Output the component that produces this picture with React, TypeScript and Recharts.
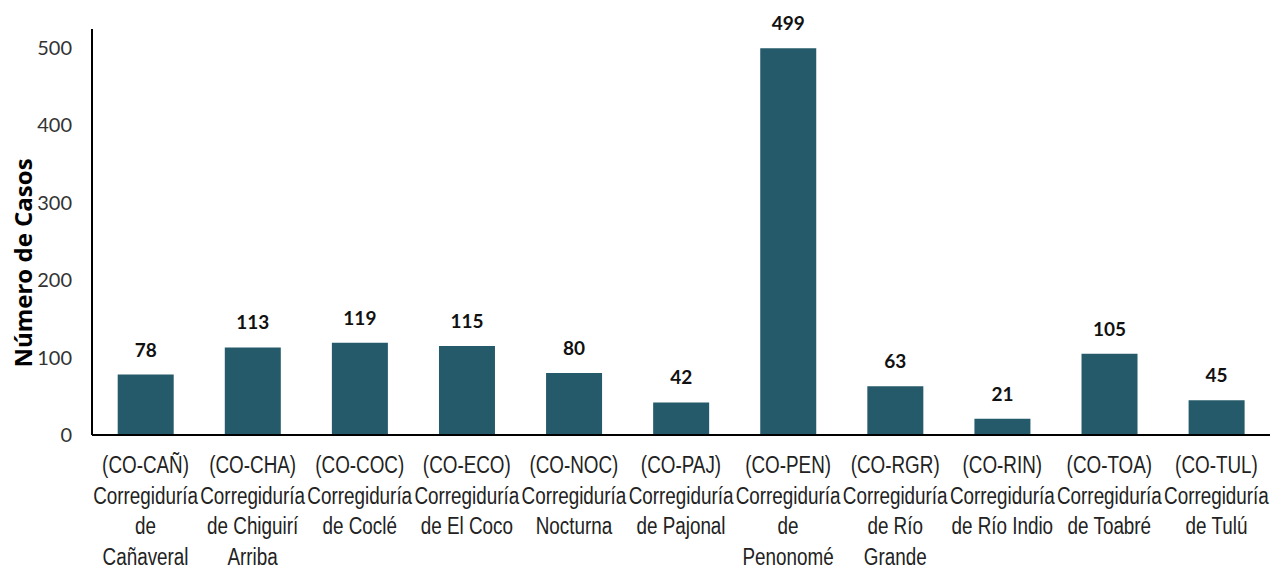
import { BarChart, Bar, XAxis, YAxis, LabelList } from 'recharts';

const categories = [
  '(CO-CAÑ)\nCorregiduría\nde\nCañaveral',
  '(CO-CHA)\nCorregiduría\nde Chiguirí\nArriba',
  '(CO-COC)\nCorregiduría\nde Coclé',
  '(CO-ECO)\nCorregiduría\nde El Coco',
  '(CO-NOC)\nCorregiduría\nNocturna',
  '(CO-PAJ)\nCorregiduría\nde Pajonal',
  '(CO-PEN)\nCorregiduría\nde\nPenonomé',
  '(CO-RGR)\nCorregiduría\nde Río\nGrande',
  '(CO-RIN)\nCorregiduría\nde Río Indio',
  '(CO-TOA)\nCorregiduría\nde Toabré',
  '(CO-TUL)\nCorregiduría\nde Tulú',
];
const casos = [78, 113, 119, 115, 80, 42, 499, 63, 21, 105, 45];
const yTicks = [0, 100, 200, 300, 400, 500];

const data = categories.map((name, i) => ({ name, casos: casos[i] }));

// multi-line category label, squeezed horizontally to look like a narrow face
const CategoryTick = (props: any) => {
  const { x, y, payload } = props;
  const lines = String(payload.value).split('\n');
  return (
    <g transform={`translate(${x},${y}) scale(0.82,1)`}>
      {lines.map((line, i) => (
        <text
          key={i}
          x={0}
          y={30.5 + i * 30.5}
          textAnchor="middle"
          fill="#222"
          fontSize={23}
          fontFamily="'Liberation Sans', Arial, sans-serif"
        >
          {line}
        </text>
      ))}
    </g>
  );
};

const YTitle = () => (
  <text
    x={0}
    y={0}
    transform="translate(32,263) rotate(-90)"
    textAnchor="middle"
    fontSize={24}
    fontWeight={700}
    fill="#000"
    fontFamily="'Open Sans', sans-serif"
  >
    Número de Casos
  </text>
);

export default function App() {
  return (
    <div style={{ position: 'absolute', left: 0, top: 0, width: 1273, height: 571, background: '#fff' }}>
      <BarChart
        width={1273}
        height={571}
        data={data}
        margin={{ top: 29, right: 3, left: 0, bottom: 0 }}
        barCategoryGap="24%"
      >
        <XAxis
          dataKey="name"
          interval={0}
          tickLine={false}
          axisLine={{ stroke: '#000', strokeWidth: 2 }}
          tick={<CategoryTick />}
          height={136}
        />
        <YAxis
          domain={[0, 524]}
          ticks={yTicks}
          tickLine={false}
          axisLine={{ stroke: '#000', strokeWidth: 2 }}
          width={92}
          tickMargin={14}
          tick={{ fill: '#333', fontSize: 20, fontFamily: 'Lato, sans-serif' }}
          label={<YTitle />}
        />
        <Bar dataKey="casos" fill="#245A69" isAnimationActive={false}>
          <LabelList
            dataKey="casos"
            position="top"
            offset={18}
            style={{ fontSize: 19, fontWeight: 700, fill: '#111', fontFamily: 'Lato, sans-serif' }}
          />
        </Bar>
      </BarChart>
    </div>
  );
}
